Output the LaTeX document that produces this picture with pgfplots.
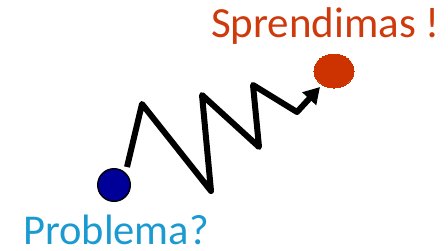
\documentclass[border=0pt]{standalone}
\usepackage{pgfplots}
\pgfplotsset{compat=1.18}
\usepackage{fontspec}
\setmainfont{Carlito}
\usetikzlibrary{arrows.meta}
\definecolor{probblue}{HTML}{1B9AD2}
\definecolor{sprred}{HTML}{CF3A0C}
\definecolor{dotred}{HTML}{CC3300}
\definecolor{dotblue}{HTML}{000099}
\begin{document}
\begin{tikzpicture}
\begin{axis}[
  x=1bp, y=1bp,
  xmin=0, xmax=448, ymin=0, ymax=250,
  hide axis, clip=false,
]
\coordinate (ll) at (axis cs:0,0);
\coordinate (ur) at (axis cs:448,250);
\addplot[line width=6bp, black, line join=round,
  -{Triangle[length=16bp, width=18bp]}]
  coordinates {(127,83) (142,146) (211,59) (202,155) (259,103) (253,165) (297,138) (320,163)};
\addplot[only marks, mark=*, color=black, mark size=16.3bp, mark options={fill=dotblue, draw=black, line width=1.4bp}]
  coordinates {(114,65)};
\addplot[only marks, mark=*, color=dotred, mark size=17bp, mark options={fill=dotred, draw=dotred, line width=0pt, xscale=1.18}]
  coordinates {(334,179)};
\node[anchor=base west, inner sep=0pt, text=probblue, font=\fontsize{42.5bp}{50bp}\selectfont] at (axis cs:23,6) {Problema?};
\node[anchor=base west, inner sep=0pt, text=sprred, font=\fontsize{43bp}{50bp}\selectfont] at (axis cs:211,213) {Sprendimas !};
\end{axis}
\pgfresetboundingbox
\path (ll) rectangle (ur);
\end{tikzpicture}
\end{document}
